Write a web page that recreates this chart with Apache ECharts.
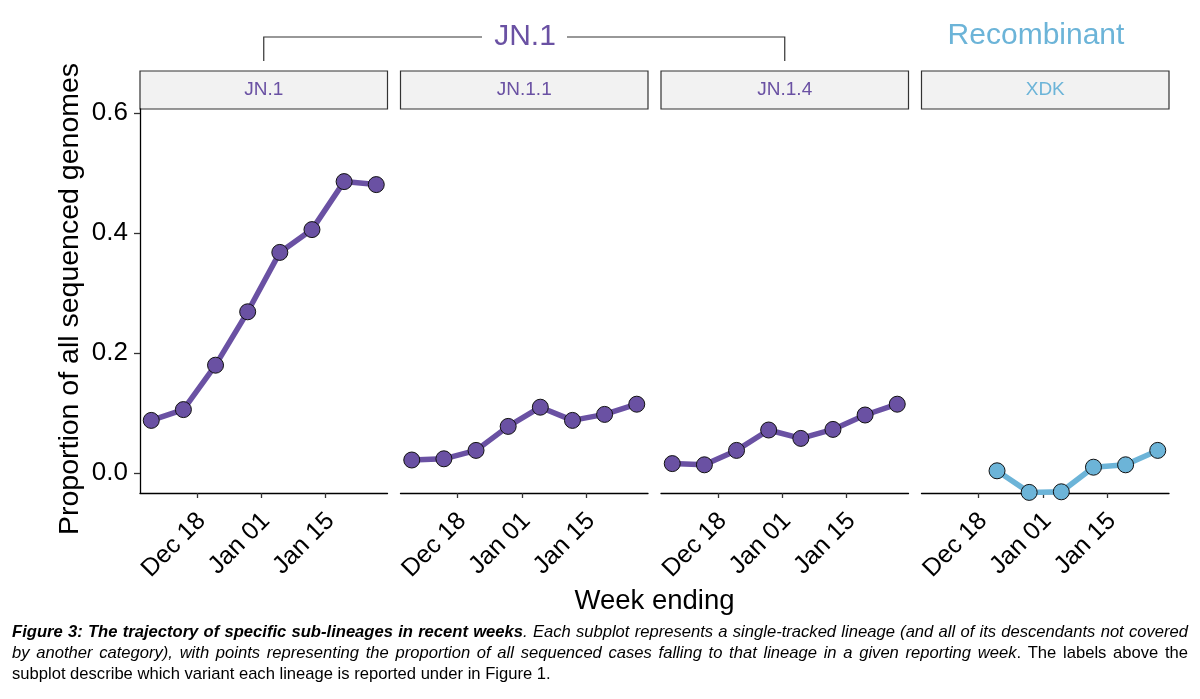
<!DOCTYPE html>
<html>
<head>
<meta charset="utf-8">
<script src="https://cdn.jsdelivr.net/npm/echarts@6/dist/echarts.min.js"></script>
<style>
  html, body { margin: 0; padding: 0; background: #fff; }
  #chart { width: 1200px; height: 699px; }
</style>
</head>
<body>
<div id="chart"></div>
<script>
// ---- data ----
const weeksJN  = ['2023-12-08','2023-12-15','2023-12-22','2023-12-29','2024-01-05','2024-01-12','2024-01-19','2024-01-26'];
const weeksXDK = ['2023-12-22','2023-12-29','2024-01-05','2024-01-12','2024-01-19','2024-01-26'];
const valJN1   = [0.088, 0.106, 0.180, 0.269, 0.368, 0.406, 0.486, 0.481];
const valJN11  = [0.022, 0.024, 0.038, 0.078, 0.110, 0.088, 0.098, 0.115];
const valJN14  = [0.016, 0.014, 0.038, 0.072, 0.058, 0.073, 0.097, 0.115];
const valXDK   = [0.004, -0.032, -0.031, 0.010, 0.014, 0.038];
const panelNames = ['JN.1', 'JN.1.1', 'JN.1.4', 'XDK'];
const panelGroup = ['JN.1', 'JN.1', 'JN.1', 'Recombinant'];
const xTickDates  = ['2023-12-18', '2024-01-01', '2024-01-15'];
const xTickLabels = ['Dec 18', 'Jan 01', 'Jan 15'];
const yTicks      = [0, 0.2, 0.4, 0.6];
const yTickLabels = ['0.0', '0.2', '0.4', '0.6'];

// ---- helpers ----
const BASE = Date.UTC(2023, 11, 1);
const dayOf = s => (Date.parse(s + 'T00:00:00Z') - BASE) / 86400000;
const PURPLE = '#6a51a3';
const BLUE = '#6cb4d8';
const FONT = '"Liberation Sans", Arial, sans-serif';

const allDays = weeksJN.map(dayOf);
const dMin = Math.min(...allDays), dMax = Math.max(...allDays);
const xPad = (dMax - dMin) * 0.05;
const tickDays = xTickDates.map(dayOf);

const panelLeft = [140, 400.5, 661, 921.5];
const panelW = 247.5;
const gridTop = 109, gridBottomY = 493;

const seriesData = [
  [weeksJN, valJN1, PURPLE],
  [weeksJN, valJN11, PURPLE],
  [weeksJN, valJN14, PURPLE],
  [weeksXDK, valXDK, BLUE]
];

const grids = [], xAxes = [], yAxes = [], series = [], graphics = [];
for (let i = 0; i < 4; i++) {
  grids.push({ left: panelLeft[i], width: panelW, top: gridTop, height: gridBottomY - gridTop, containLabel: false });
  xAxes.push({
    type: 'value', gridIndex: i, min: dMin - xPad, max: dMax + xPad,
    axisLine: { show: true, onZero: false, lineStyle: { color: '#000', width: 1.3 } },
    axisTick: { show: true, length: 5, lineStyle: { color: '#333', width: 1.3 }, customValues: tickDays },
    axisLabel: {
      show: true, rotate: 45, margin: 11, fontSize: 25, color: '#000', fontFamily: FONT,
      align: 'right', verticalAlign: 'top', padding: [0, 6, 0, 0],
      customValues: tickDays,
      formatter: v => { const k = tickDays.findIndex(t => Math.abs(t - v) < 1e-6); return k >= 0 ? xTickLabels[k] : ''; }
    },
    splitLine: { show: false }
  });
  yAxes.push({
    type: 'value', gridIndex: i, min: -0.033, max: 0.607,
    show: i === 0,
    axisLine: { show: i === 0, onZero: false, lineStyle: { color: '#000', width: 1.3 } },
    axisTick: { show: i === 0, length: 6, lineStyle: { color: '#333', width: 1.3 }, customValues: yTicks },
    axisLabel: {
      show: i === 0, fontSize: 26, color: '#000', margin: 12, fontFamily: FONT,
      customValues: yTicks,
      formatter: v => { const k = yTicks.findIndex(t => Math.abs(t - v) < 1e-6); return k >= 0 ? yTickLabels[k] : ''; }
    },
    splitLine: { show: false }
  });
  const [wk, vals, col] = seriesData[i];
  series.push({
    type: 'line', xAxisIndex: i, yAxisIndex: i,
    data: wk.map((d, j) => [dayOf(d), vals[j]]),
    symbol: 'circle', symbolSize: 16, clip: false,
    lineStyle: { color: col, width: 5.5 },
    itemStyle: { color: col, borderColor: '#111', borderWidth: 1 },
    emphasis: { disabled: true }, animation: false
  });
  // strip
  graphics.push({
    type: 'rect', shape: { x: panelLeft[i], y: 71, width: panelW, height: 38 },
    style: { fill: '#f2f2f2', stroke: '#333', lineWidth: 1.2 }
  });
  graphics.push({
    type: 'text', x: panelLeft[i] + panelW / 2, y: 90,
    style: { text: panelNames[i], fill: i === 3 ? BLUE : PURPLE, font: '19px ' + FONT, textAlign: 'center', textVerticalAlign: 'middle' }
  });
}

// group headers
const c0 = panelLeft[0] + panelW / 2, c2 = panelLeft[2] + panelW / 2;
graphics.push({ type: 'polyline', shape: { points: [[c0, 61], [c0, 37], [482, 37]] }, style: { stroke: '#333', lineWidth: 1.2, fill: null } });
graphics.push({ type: 'polyline', shape: { points: [[567, 37], [c2, 37], [c2, 61]] }, style: { stroke: '#333', lineWidth: 1.2, fill: null } });
graphics.push({ type: 'text', x: 525, y: 37, style: { text: panelGroup[0], fill: PURPLE, font: '30px ' + FONT, textAlign: 'center', textVerticalAlign: 'middle' } });
graphics.push({ type: 'text', x: 1036, y: 36, style: { text: panelGroup[3], fill: BLUE, font: '30px ' + FONT, textAlign: 'center', textVerticalAlign: 'middle' } });

// axis titles
graphics.push({ type: 'text', x: 654.5, y: 601, style: { text: 'Week ending', fill: '#000', font: '27.5px ' + FONT, textAlign: 'center', textVerticalAlign: 'middle' } });
graphics.push({ type: 'text', x: 70, y: 299, rotation: Math.PI / 2, style: { text: 'Proportion of all sequenced genomes', fill: '#000', font: '28.5px ' + FONT, textAlign: 'center', textVerticalAlign: 'middle' } });

// caption (justified lines 1-2)
const CS = 16.6;
const fontFor = st => (st === 'bi' ? 'italic bold ' : st === 'i' ? 'italic ' : '') + CS + 'px ' + FONT;
const capSegs = [
  [['bi', 'Figure 3: The trajectory of specific sub-lineages in recent weeks'], ['i', '. Each subplot represents a single-tracked lineage (and all of its descendants not covered']],
  [['i', 'by another category), with points representing the proportion of all sequenced cases falling to that lineage in a given reporting week'], ['n', '. The labels above the']],
  [['n', 'subplot describe which variant each lineage is reported under in Figure 1.']]
];
const capY = [632, 653, 674];
const capLeft = 12, capRight = 1188;
const mctx = document.createElement('canvas').getContext('2d');
capSegs.forEach((segs, k) => {
  const toks = [];
  segs.forEach(([st, txt], si) => {
    const parts = txt.split(' ');
    parts.forEach((p, pi) => {
      if (p === '') return;
      toks.push({ st, text: p, gap: !(pi === 0 && si > 0 && toks.length) || (pi === 0 && si > 0 && txt.startsWith(' ')) });
    });
  });
  toks[0].gap = false;
  let natural = 0, gaps = 0;
  toks.forEach(t => {
    mctx.font = fontFor(t.st);
    t.w = mctx.measureText(t.text).width;
    natural += t.w;
    if (t.gap) { natural += mctx.measureText(' ').width; gaps++; }
  });
  const justify = k < 2;
  const extra = justify && gaps ? (capRight - capLeft - natural) / gaps : 0;
  let x = capLeft;
  toks.forEach(t => {
    if (t.gap) { mctx.font = fontFor(t.st); x += mctx.measureText(' ').width + extra; }
    graphics.push({ type: 'text', x: x, y: capY[k], style: { text: t.text, font: fontFor(t.st), fill: '#000', textAlign: 'left', textVerticalAlign: 'middle' } });
    x += t.w;
  });
});

const chart = echarts.init(document.getElementById('chart'), null, { renderer: 'canvas' });
chart.setOption({
  animation: false,
  backgroundColor: '#fff',
  grid: grids, xAxis: xAxes, yAxis: yAxes, series: series,
  graphic: graphics
});
</script>
</body>
</html>
